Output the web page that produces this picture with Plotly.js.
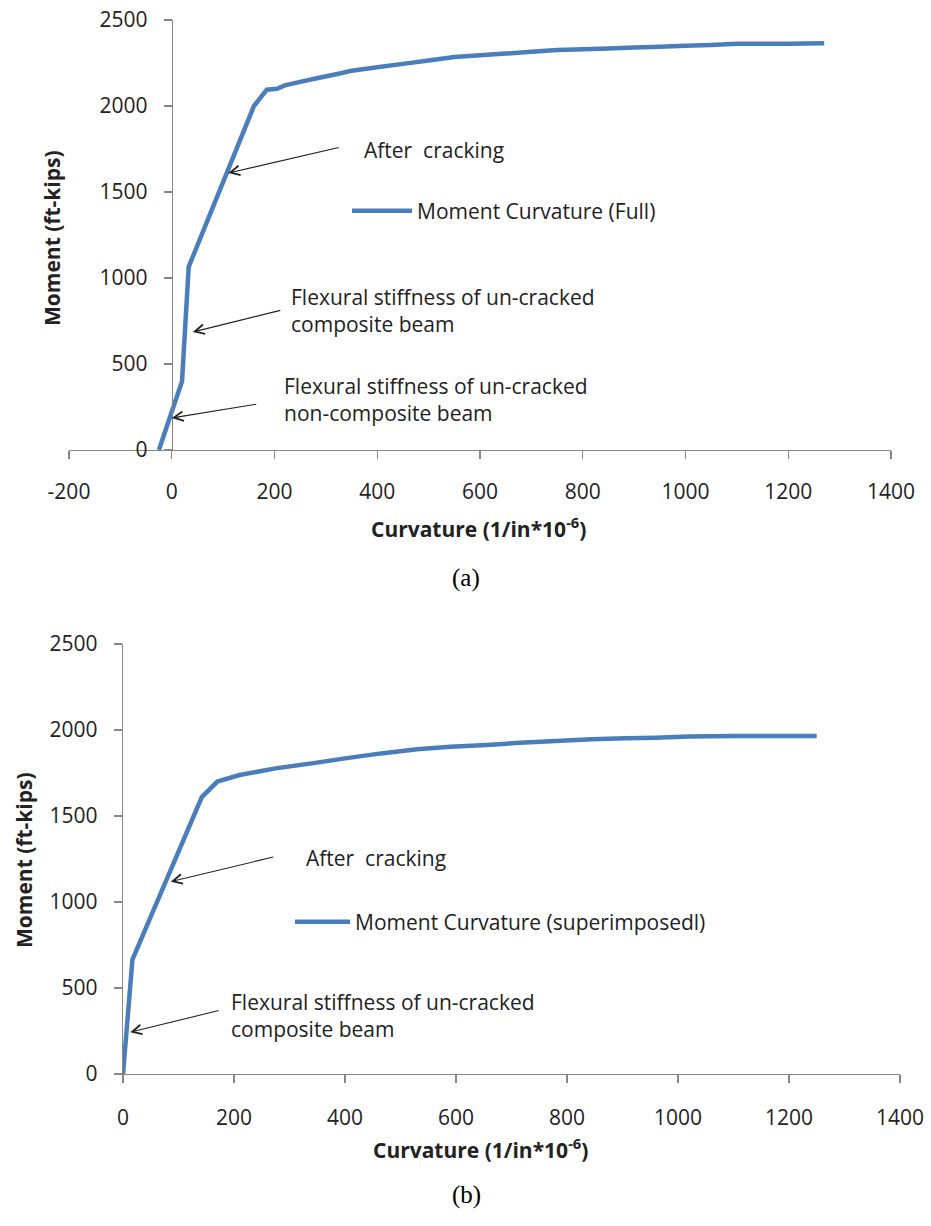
<!DOCTYPE html>
<html>
<head>
<meta charset="utf-8">
<script src="https://cdn.plot.ly/plotly-3.0.1.min.js"></script>
<style>html,body{margin:0;padding:0;background:#fff;}#chart{width:931px;height:1226px;}</style>
</head>
<body>
<div id="chart"></div>
<script>
// Chart (a): Moment Curvature (Full)
const fullCurvature = [-25, 20, 33, 160, 185, 205, 220, 250, 280, 320, 350, 400, 450, 500, 550, 600, 650, 700, 750, 800, 850, 900, 950, 1000, 1050, 1100, 1150, 1200, 1270];
const fullMoment    = [0, 400, 1065, 2000, 2095, 2100, 2120, 2140, 2160, 2185, 2205, 2225, 2245, 2265, 2285, 2295, 2305, 2315, 2325, 2330, 2335, 2340, 2345, 2350, 2355, 2362, 2362, 2362, 2365];

// Chart (b): Moment Curvature (superimposedl)
const supCurvature = [0, 17, 142, 170, 210, 275, 340, 400, 465, 530, 590, 655, 715, 780, 845, 905, 960, 1020, 1100, 1180, 1250];
const supMoment    = [0, 665, 1610, 1700, 1738, 1777, 1806, 1835, 1864, 1888, 1903, 1913, 1926, 1936, 1946, 1952, 1955, 1962, 1965, 1965, 1965];

const xTicksA = [-200, 0, 200, 400, 600, 800, 1000, 1200, 1400];
const xLabelsA = ['-200', '0', '200', '400', '600', '800', '1000', '1200', '1400'];
const xTicksB = [0, 200, 400, 600, 800, 1000, 1200, 1400];
const xLabelsB = ['0', '200', '400', '600', '800', '1000', '1200', '1400'];
const yTicks  = [0, 500, 1000, 1500, 2000, 2500];
const yLabels = ['0', '500', '1000', '1500', '2000', '2500'];

const seriesNameA = 'Moment Curvature (Full)';
const seriesNameB = 'Moment Curvature (superimposedl)';
const xTitle = 'Curvature (1/in*10<sup>-6</sup>)';
const yTitle = 'Moment (ft-kips)';

const W = 931, H = 1226;
const px = v => v / W;
const py = v => 1 - v / H;

const FONT = 'Open Sans, sans-serif';
const LINE = '#4a7ebb';
const AXIS = '#868686';
const TXT = '#222222';

const traces = [
  {x: fullCurvature, y: fullMoment, xaxis: 'x', yaxis: 'y', type: 'scatter', mode: 'lines',
   name: seriesNameA, legend: 'legend', line: {color: LINE, width: 4.5, simplify: false}},
  {x: supCurvature, y: supMoment, xaxis: 'x2', yaxis: 'y2', type: 'scatter', mode: 'lines',
   name: seriesNameB, legend: 'legend2', line: {color: LINE, width: 4.5, simplify: false}}
];

const axCommon = {
  showgrid: false, zeroline: false, showline: true, linecolor: AXIS, linewidth: 1.3,
  ticks: 'outside', ticklen: 8, tickcolor: AXIS, tickwidth: 1.3,
  tickfont: {family: FONT, size: 21, color: TXT}, fixedrange: true
};

const arrowCommon = {text: '', showarrow: true, arrowhead: 5, arrowsize: 1.7, arrowwidth: 1.1, arrowcolor: '#222'};
const textCommon = {showarrow: false, xref: 'paper', yref: 'paper', xanchor: 'left', yanchor: 'middle', align: 'left',
  font: {family: FONT, size: 21, color: TXT}};
const titleFont = {family: FONT, size: 21, color: TXT, weight: 'bold'};

const layout = {
  width: W, height: H,
  margin: {l: 0, r: 0, t: 0, b: 0},
  paper_bgcolor: '#ffffff', plot_bgcolor: 'rgba(0,0,0,0)',
  showlegend: true,
  xaxis: Object.assign({}, axCommon, {domain: [px(69), px(891)], range: [-200, 1400], tickvals: xTicksA, ticktext: xLabelsA, anchor: 'y', ticklabelstandoff: 14}),
  yaxis: Object.assign({}, axCommon, {domain: [py(450), py(20)], range: [0, 2500], tickvals: yTicks, ticktext: yLabels, anchor: 'free', position: px(171.7), ticklabelstandoff: 12}),
  xaxis2: Object.assign({}, axCommon, {domain: [px(123), px(900)], range: [0, 1400], tickvals: xTicksB, ticktext: xLabelsB, anchor: 'y2', ticklabelstandoff: 16}),
  yaxis2: Object.assign({}, axCommon, {domain: [py(1074), py(644)], range: [0, 2500], tickvals: yTicks, ticktext: yLabels, anchor: 'x2', ticklabelstandoff: 12}),
  legend: {x: px(347), y: py(211), xanchor: 'left', yanchor: 'middle', bgcolor: 'rgba(0,0,0,0)', borderwidth: 0,
           itemwidth: 60, font: {family: FONT, size: 21, color: TXT}},
  legend2: {x: px(290), y: py(922), xanchor: 'left', yanchor: 'middle', bgcolor: 'rgba(0,0,0,0)', borderwidth: 0,
           itemwidth: 55, font: {family: FONT, size: 21, color: TXT}},
  annotations: [
    // Axis titles
    {text: yTitle, textangle: -90, x: px(52), y: py(238), xref: 'paper', yref: 'paper', showarrow: false, xanchor: 'center', yanchor: 'middle', font: titleFont},
    {text: xTitle, x: px(478), y: py(527), xref: 'paper', yref: 'paper', showarrow: false, xanchor: 'center', yanchor: 'middle', font: titleFont},
    {text: yTitle, textangle: -90, x: px(24), y: py(860), xref: 'paper', yref: 'paper', showarrow: false, xanchor: 'center', yanchor: 'middle', font: titleFont},
    {text: xTitle, x: px(480), y: py(1148), xref: 'paper', yref: 'paper', showarrow: false, xanchor: 'center', yanchor: 'middle', font: titleFont},
    // Captions
    {text: '(a)', x: px(466), y: py(578), xref: 'paper', yref: 'paper', showarrow: false, xanchor: 'center', yanchor: 'middle', font: {family: 'Liberation Serif, serif', size: 25, color: '#000'}},
    {text: '(b)', x: px(466), y: py(1195), xref: 'paper', yref: 'paper', showarrow: false, xanchor: 'center', yanchor: 'middle', font: {family: 'Liberation Serif, serif', size: 25, color: '#000'}},
    // Chart (a) callouts
    Object.assign({}, textCommon, {text: 'After  cracking', x: px(362), y: py(150)}),
    Object.assign({}, arrowCommon, {xref: 'x', yref: 'y', x: 110, y: 1610, ax: 112, ay: -26}),
    Object.assign({}, textCommon, {text: 'Flexural stiffness of un-cracked<br>composite beam', x: px(289), y: py(310)}),
    Object.assign({}, arrowCommon, {xref: 'x', yref: 'y', x: 41, y: 686, ax: 89, ay: -22}),
    Object.assign({}, textCommon, {text: 'Flexural stiffness of un-cracked<br>non-composite beam', x: px(282), y: py(399)}),
    Object.assign({}, arrowCommon, {xref: 'x', yref: 'y', x: 0, y: 186, ax: 86, ay: -14}),
    // Chart (b) callouts
    Object.assign({}, textCommon, {text: 'After  cracking', x: px(304), y: py(858)}),
    Object.assign({}, arrowCommon, {xref: 'x2', yref: 'y2', x: 86, y: 1118, ax: 104, ay: -25}),
    Object.assign({}, textCommon, {text: 'Flexural stiffness of un-cracked<br>composite beam', x: px(229), y: py(1015)}),
    Object.assign({}, arrowCommon, {xref: 'x2', yref: 'y2', x: 13, y: 243, ax: 90, ay: -22})
  ]
};

Plotly.newPlot('chart', traces, layout, {displayModeBar: false, staticPlot: true});
</script>
</body>
</html>
